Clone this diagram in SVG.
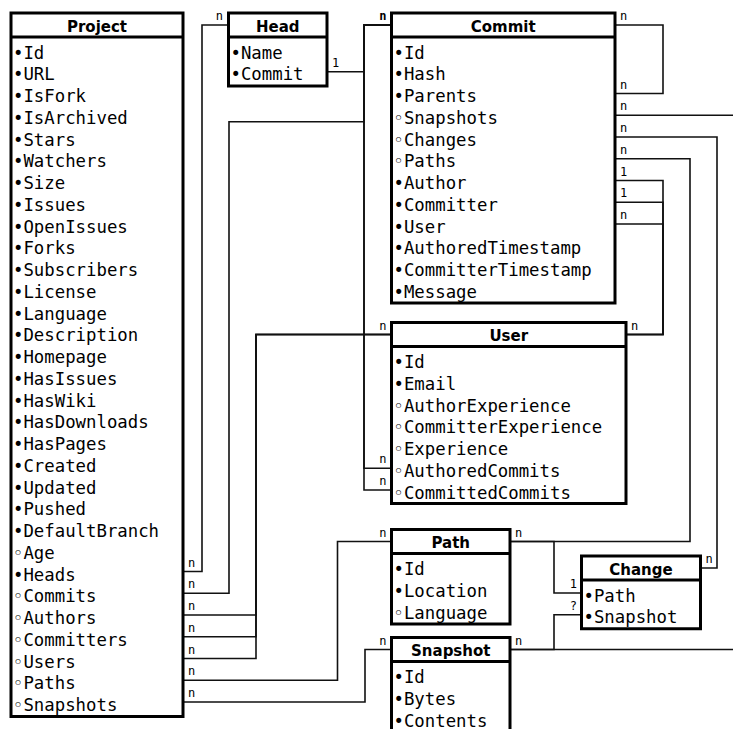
<svg xmlns="http://www.w3.org/2000/svg" width="733" height="729" viewBox="0 0 733 729">
<style>
.box{fill:#fff;stroke:#000;stroke-width:3}
.sep{stroke:#000;stroke-width:3}
.hd{font-family:"DejaVu Sans","Liberation Sans",sans-serif;font-weight:bold;font-size:15px;text-anchor:middle;fill:#000}
.it{font-family:"DejaVu Sans Mono","Liberation Mono",monospace;font-size:17.33px;fill:#000}
.cn{fill:none;stroke:#111;stroke-width:1.6}
.lb{font-family:"DejaVu Sans Mono","Liberation Mono",monospace;font-size:12px;fill:#000}
.le{text-anchor:end}
</style>
<rect width="733" height="729" fill="#fff"/>
<g id="connectors">
<path class="cn" d="M183 571.5H202V25H228"/>
<path class="cn" d="M183 593.25H229V121.75H364V25H391.5"/>
<path class="cn" d="M183 615H256V334.5H391.5"/>
<path class="cn" d="M183 636.75H256V334.5H391.5"/>
<path class="cn" d="M183 658.5H256V334.5H391.5"/>
<path class="cn" d="M183 680.25H337.5V541.5H391.5"/>
<path class="cn" d="M183 702H365V649.5H391.5"/>
<path class="cn" d="M327 71.75H364V25H391.5"/>
<path class="cn" d="M615 25H663V93.5H615"/>
<path class="cn" d="M615 115.25H745V649.5H510"/>
<path class="cn" d="M615 137H717V568H700.5"/>
<path class="cn" d="M615 158.75H690V541.5H510"/>
<path class="cn" d="M615 180.5H663V334.5H626"/>
<path class="cn" d="M615 202.25H663V334.5H626"/>
<path class="cn" d="M615 224H663V334.5H626"/>
<path class="cn" d="M391.5 468.25H364V25H391.5"/>
<path class="cn" d="M391.5 490H364V25H391.5"/>
<path class="cn" d="M581.5 593H554V541.5H510"/>
<path class="cn" d="M581.5 614.75H554V649.5H510"/>
<text class="lb" x="188" y="566.5">n</text>
<text class="lb le" x="223" y="20">n</text>
<text class="lb" x="188" y="588.25">n</text>
<text class="lb le" x="386.5" y="20" font-weight="bold">n</text>
<text class="lb" x="188" y="610">n</text>
<text class="lb" x="188" y="631.75">n</text>
<text class="lb" x="188" y="653.5">n</text>
<text class="lb le" x="386.5" y="329.5">n</text>
<text class="lb" x="188" y="675.25">n</text>
<text class="lb le" x="386.5" y="536.5">n</text>
<text class="lb" x="188" y="697">n</text>
<text class="lb le" x="386.5" y="644.5">n</text>
<text class="lb" x="332" y="66.75">1</text>
<text class="lb" x="620" y="20">n</text>
<text class="lb" x="620" y="88.5">n</text>
<text class="lb" x="620" y="110.25">n</text>
<text class="lb" x="515" y="644.5">n</text>
<text class="lb" x="620" y="132">n</text>
<text class="lb" x="705.5" y="563">n</text>
<text class="lb" x="620" y="153.75">n</text>
<text class="lb" x="515" y="536.5">n</text>
<text class="lb" x="620" y="175.5">1</text>
<text class="lb" x="620" y="197.25">1</text>
<text class="lb" x="620" y="219">n</text>
<text class="lb" x="631" y="329.5">n</text>
<text class="lb le" x="386.5" y="463.25">n</text>
<text class="lb le" x="386.5" y="485">n</text>
<text class="lb le" x="577" y="588">1</text>
<text class="lb le" x="577" y="609.75">?</text>
</g>
<g id="project">
<rect class="box" x="11" y="13" width="172" height="703.5"/>
<line class="sep" x1="11" y1="37" x2="183" y2="37"/>
<text class="hd" x="97" y="31.5">Project</text>
<text class="it">
<tspan x="13" y="58.5">•Id</tspan>
<tspan x="13" y="80.25">•URL</tspan>
<tspan x="13" y="102">•IsFork</tspan>
<tspan x="13" y="123.75">•IsArchived</tspan>
<tspan x="13" y="145.5">•Stars</tspan>
<tspan x="13" y="167.25">•Watchers</tspan>
<tspan x="13" y="189">•Size</tspan>
<tspan x="13" y="210.75">•Issues</tspan>
<tspan x="13" y="232.5">•OpenIssues</tspan>
<tspan x="13" y="254.25">•Forks</tspan>
<tspan x="13" y="276">•Subscribers</tspan>
<tspan x="13" y="297.75">•License</tspan>
<tspan x="13" y="319.5">•Language</tspan>
<tspan x="13" y="341.25">•Description</tspan>
<tspan x="13" y="363">•Homepage</tspan>
<tspan x="13" y="384.75">•HasIssues</tspan>
<tspan x="13" y="406.5">•HasWiki</tspan>
<tspan x="13" y="428.25">•HasDownloads</tspan>
<tspan x="13" y="450">•HasPages</tspan>
<tspan x="13" y="471.75">•Created</tspan>
<tspan x="13" y="493.5">•Updated</tspan>
<tspan x="13" y="515.25">•Pushed</tspan>
<tspan x="13" y="537">•DefaultBranch</tspan>
<tspan x="13" y="558.75">◦Age</tspan>
<tspan x="13" y="580.5">•Heads</tspan>
<tspan x="13" y="602.25">◦Commits</tspan>
<tspan x="13" y="624">◦Authors</tspan>
<tspan x="13" y="645.75">◦Committers</tspan>
<tspan x="13" y="667.5">◦Users</tspan>
<tspan x="13" y="689.25">◦Paths</tspan>
<tspan x="13" y="711">◦Snapshots</tspan>
</text>
</g>
<g id="head">
<rect class="box" x="228.5" y="13" width="98.5" height="73"/>
<line class="sep" x1="228.5" y1="37" x2="327" y2="37"/>
<text class="hd" x="277.75" y="31.5">Head</text>
<text class="it">
<tspan x="230.5" y="58.5">•Name</tspan>
<tspan x="230.5" y="80.25">•Commit</tspan>
</text>
</g>
<g id="commit">
<rect class="box" x="391.5" y="13" width="223.5" height="290"/>
<line class="sep" x1="391.5" y1="37" x2="615" y2="37"/>
<text class="hd" x="503.25" y="31.5">Commit</text>
<text class="it">
<tspan x="393.5" y="58.5">•Id</tspan>
<tspan x="393.5" y="80.25">•Hash</tspan>
<tspan x="393.5" y="102">•Parents</tspan>
<tspan x="393.5" y="123.75">◦Snapshots</tspan>
<tspan x="393.5" y="145.5">◦Changes</tspan>
<tspan x="393.5" y="167.25">◦Paths</tspan>
<tspan x="393.5" y="189">•Author</tspan>
<tspan x="393.5" y="210.75">•Committer</tspan>
<tspan x="393.5" y="232.5">•User</tspan>
<tspan x="393.5" y="254.25">•AuthoredTimestamp</tspan>
<tspan x="393.5" y="276">•CommitterTimestamp</tspan>
<tspan x="393.5" y="297.75">•Message</tspan>
</text>
</g>
<g id="user">
<rect class="box" x="391.5" y="322.5" width="234.5" height="181"/>
<line class="sep" x1="391.5" y1="346.5" x2="626" y2="346.5"/>
<text class="hd" x="508.75" y="341">User</text>
<text class="it">
<tspan x="393.5" y="368">•Id</tspan>
<tspan x="393.5" y="389.75">•Email</tspan>
<tspan x="393.5" y="411.5">◦AuthorExperience</tspan>
<tspan x="393.5" y="433.25">◦CommitterExperience</tspan>
<tspan x="393.5" y="455">◦Experience</tspan>
<tspan x="393.5" y="476.75">◦AuthoredCommits</tspan>
<tspan x="393.5" y="498.5">◦CommittedCommits</tspan>
</text>
</g>
<g id="path">
<rect class="box" x="391.5" y="529.5" width="118.5" height="94.5"/>
<line class="sep" x1="391.5" y1="553.5" x2="510" y2="553.5"/>
<text class="hd" x="450.75" y="548">Path</text>
<text class="it">
<tspan x="393.5" y="575">•Id</tspan>
<tspan x="393.5" y="596.75">•Location</tspan>
<tspan x="393.5" y="618.5">◦Language</tspan>
</text>
</g>
<g id="snapshot">
<rect class="box" x="391.5" y="637.5" width="118.5" height="110"/>
<line class="sep" x1="391.5" y1="661.5" x2="510" y2="661.5"/>
<text class="hd" x="450.75" y="656">Snapshot</text>
<text class="it">
<tspan x="393.5" y="683">•Id</tspan>
<tspan x="393.5" y="704.75">•Bytes</tspan>
<tspan x="393.5" y="726.5">•Contents</tspan>
</text>
</g>
<g id="change">
<rect class="box" x="581.5" y="556" width="119" height="72.75"/>
<line class="sep" x1="581.5" y1="580" x2="700.5" y2="580"/>
<text class="hd" x="641" y="574.5">Change</text>
<text class="it">
<tspan x="583.5" y="601.5">•Path</tspan>
<tspan x="583.5" y="623.25">•Snapshot</tspan>
</text>
</g>
</svg>
